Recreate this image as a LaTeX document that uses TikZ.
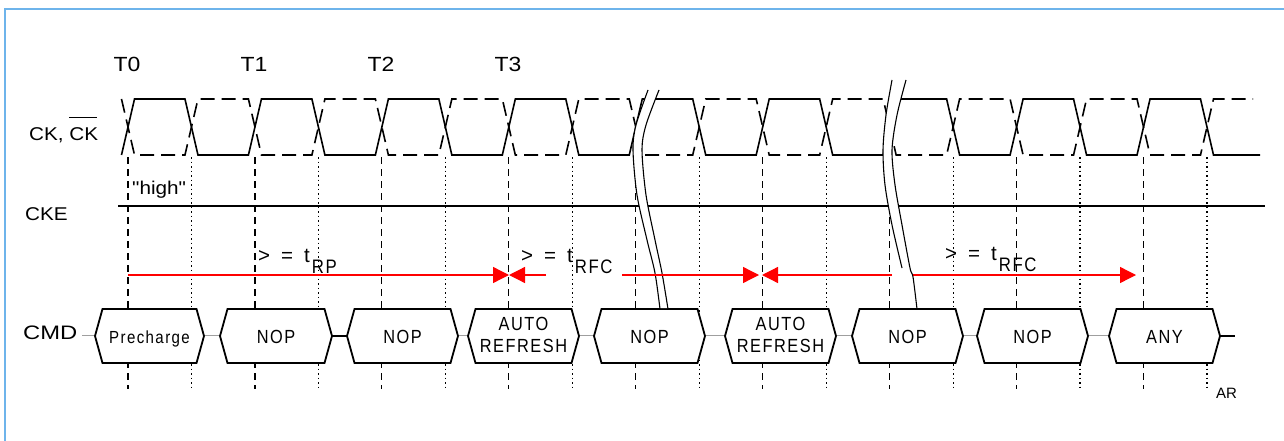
\documentclass[tikz,border=0pt]{standalone}
\usepackage{fontspec}
\setmainfont{Liberation Sans}
\newfontfamily\lblfont[FakeStretch=1.12]{Liberation Sans}
\newfontfamily\widefont[FakeStretch=1.22]{Liberation Sans}
\newfontfamily\spfont[FakeStretch=0.86,LetterSpace=8]{Liberation Sans}
\usetikzlibrary{arrows.meta}
\definecolor{framecol}{RGB}{110,180,235}
\definecolor{sigred}{RGB}{255,0,0}
\newcommand\cmdbox[6]{% name, left tip, right tip, text, text y, anchor
  \draw[boxline] (#2,336) -- ({#2+7.5},309) -- ({#3-7.5},309) -- (#3,336) -- ({#3-7.5},363) -- ({#2+7.5},363) -- cycle;
  \coordinate (#1l) at (#2,336);
  \coordinate (#1r) at (#3,336);
  \node[boxtext, anchor=#6] (#1) at ({(#2+#3)/2},#5) {#4};}
\newcommand\tlabel[4]{% name, x, baseline, subscript
  \node[anchor=base west, inner sep=0pt, font=\fontsize{20.5}{22}\selectfont] (#1) at (#2,#3)
    {>\kern11pt=\kern11pt t\kern2pt\raisebox{-11pt}{\spfont\fontsize{19.5}{20}\selectfont #4}};}
\begin{document}
\begin{tikzpicture}[x=1pt,y=-1pt,
  wave/.style={line width=1.6pt, line join=miter},
  dwave/.style={wave, dash pattern=on 14pt off 7pt},
  risev/.style={line width=1.2pt, dash pattern=on 7pt off 5pt},
  fallv/.style={line width=1.2pt, dash pattern=on 1.5pt off 3pt},
  boxline/.style={line width=1.8pt, fill=white, line join=miter},
  boxtext/.style={font=\spfont\fontsize{19}{22}\selectfont, align=center, inner sep=0pt},
  lbl/.style={font=\lblfont\fontsize{18.5}{20}\selectfont, inner sep=0pt},
  tlbl/.style={font=\lblfont\fontsize{20.5}{22}\selectfont, inner sep=0pt},
  timing/.style={draw=sigred, line width=1.3pt},
  arrowR/.style={-{Triangle[length=16pt,width=16pt]}},
  link/.style={draw=gray!75, line width=0.6pt, double=white, double distance=1pt},
  blink/.style={line width=1.4pt},
  brk/.style={line width=1.1pt},
]
\useasboundingbox (0,0) rectangle (1284,441);
\def\hp{63.47}
% frame
\draw[framecol, line width=1.5pt] (5,441) -- (5,9) -- (1284,9);
% vertical reference lines
\foreach \k in {0,2,...,16} \draw[risev] ({128+\k*\hp},157) -- ({128+\k*\hp},389);
\foreach \k in {1,3,...,17} \draw[fallv] ({128+\k*\hp},157) -- ({128+\k*\hp},389);
% CK (solid)
\draw[wave] ({128-6.5},155)
  \foreach \k in {0,2,...,14} { -- ({128+\k*\hp+6.5},99) -- ({128+(\k+1)*\hp-6.5},99) -- ({128+(\k+1)*\hp+6.5},155) -- ({128+(\k+2)*\hp-6.5},155) }
  -- ({128+16*\hp+6.5},99) -- ({128+17*\hp-6.5},99) -- ({128+17*\hp+6.5},155) -- (1260,155);
% CK# (dashed)
\draw[dwave] ({128-6.5},99)
  \foreach \k in {0,2,...,14} { -- ({128+\k*\hp+6.5},155) -- ({128+(\k+1)*\hp-6.5},155) -- ({128+(\k+1)*\hp+6.5},99) -- ({128+(\k+2)*\hp-6.5},99) }
  -- ({128+16*\hp+6.5},155) -- ({128+17*\hp-6.5},155) -- ({128+17*\hp+6.5},99) -- (1253,99);
% CKE
\coordinate (ckeA) at (118,206);
\coordinate (ckeB) at (1265,206);
\draw[line width=1.4pt] (ckeA) -- (ckeB);
% CMD connectors
\coordinate (cmdL) at (82,336);
\coordinate (cmdR) at (1235,336);
\coordinate (b1l) at (95,336); \coordinate (b1r) at (204,336);
\coordinate (b2l) at (220,336); \coordinate (b2r) at (332,336);
\coordinate (b3l) at (347,336); \coordinate (b3r) at (458,336);
\coordinate (b4l) at (468,336); \coordinate (b4r) at (579,336);
\coordinate (b5l) at (594,336); \coordinate (b5r) at (705,336);
\coordinate (b6l) at (725,336); \coordinate (b6r) at (836,336);
\coordinate (b7l) at (852,336); \coordinate (b7r) at (963,336);
\coordinate (b8l) at (977,336); \coordinate (b8r) at (1088,336);
\coordinate (b9l) at (1109,336); \coordinate (b9r) at (1220,336);
\draw[link] (cmdL) -- (b1l);
\draw[link] (b1r) -- (b2l);
\draw[blink] (b2r) -- (b3l);
\draw[link] (b3r) -- (b4l);
\draw[link] (b4r) -- (b5l);
\draw[link] (b5r) -- (b6l);
\draw[link] (b6r) -- (b7l);
\draw[link] (b7r) -- (b8l);
\draw[link] (b8r) -- (b9l);
\draw[blink] (b9r) -- (cmdR);
% CMD boxes
\cmdbox{b1}{95}{204}{\fontsize{17.5}{20}\selectfont Precharge}{343}{base}
\cmdbox{b2}{220}{332}{NOP}{343}{base}
\cmdbox{b3}{347}{458}{NOP}{343}{base}
\cmdbox{b4}{468}{579}{AUTO\\REFRESH}{334.5}{center}
\cmdbox{b5}{594}{705}{NOP}{343}{base}
\cmdbox{b6}{725}{836}{AUTO\\REFRESH}{334.5}{center}
\cmdbox{b7}{852}{963}{NOP}{343}{base}
\cmdbox{b8}{977}{1088}{NOP}{343}{base}
\cmdbox{b9}{1109}{1220}{ANY}{343}{base}
% break 1
\fill[white] plot[smooth] coordinates {(648,90) (636,125) (633,150) (637,195) (647,240) (655,273) (660,308)}
  -- plot[smooth] coordinates {(668,308) (662,273) (655,240) (646,195) (642,150) (646,125) (659,90)} -- cycle;
\draw[brk] plot[smooth] coordinates {(648,90) (636,125) (633,150) (637,195) (647,240) (655,273) (660,309)};
\draw[brk] plot[smooth] coordinates {(659,90) (646,125) (642,150) (646,195) (655,240) (662,273) (668,309)};
% timing arrows
\coordinate (r0) at (128,275);
\coordinate (r1) at (509,275);
\coordinate (r1b) at (546,275);
\coordinate (r2a) at (622,275);
\coordinate (r2) at (759,275);
\coordinate (r3) at (762,275);
\coordinate (r3b) at (892,275);
\coordinate (r4a) at (913,275);
\coordinate (r4) at (1136,275);
\draw[timing, arrowR] (r0) -- (r1);
\draw[timing, arrowR] (r1b) -- (r1);
\draw[timing, arrowR] (r2a) -- (r2);
\draw[timing, arrowR] (r3b) -- (r3);
\draw[timing, arrowR] (r4a) -- (r4);
% break 2
\fill[white] plot[smooth] coordinates {(892,80) (886,115) (883,150) (885,185) (892,225) (902,268)}
  -- plot[smooth] coordinates {(910,268) (902,225) (895,185) (892,150) (897,115) (906,80)} -- cycle;
\draw[brk] plot[smooth] coordinates {(892,80) (886,115) (883,150) (885,185) (892,225) (902,268)};
\draw[brk] plot[smooth] coordinates {(906,80) (897,115) (892,150) (895,185) (902,225) (910,268) (913,277) (917,309)};
% labels
\node[tlbl, anchor=base] (T0) at (127,72) {T0};
\node[tlbl, anchor=base] (T1) at (254,72) {T1};
\node[tlbl, anchor=base] (T2) at (381,72) {T2};
\node[tlbl, anchor=base] (T3) at (508,72) {T3};
\node[lbl, anchor=base west] (ck) at (29,140) {CK, \rlap{\rule[22pt]{28pt}{1pt}}CK};
\node[lbl, anchor=base west] (cke) at (25,220) {CKE};
\node[lbl, anchor=base west] (high) at (132,194) {"high"};
\node[font=\widefont\fontsize{19.5}{20}\selectfont, anchor=base west, inner sep=0pt] (cmd) at (23,339) {CMD};
\node[font=\fontsize{15}{16}\selectfont, anchor=base west, inner sep=0pt] (ar) at (1216,398) {AR};
\tlabel{trp}{258}{262}{RP}
\tlabel{trfc1}{521}{262}{RFC}
\tlabel{trfc2}{945}{260}{RFC}
\end{tikzpicture}
\end{document}
